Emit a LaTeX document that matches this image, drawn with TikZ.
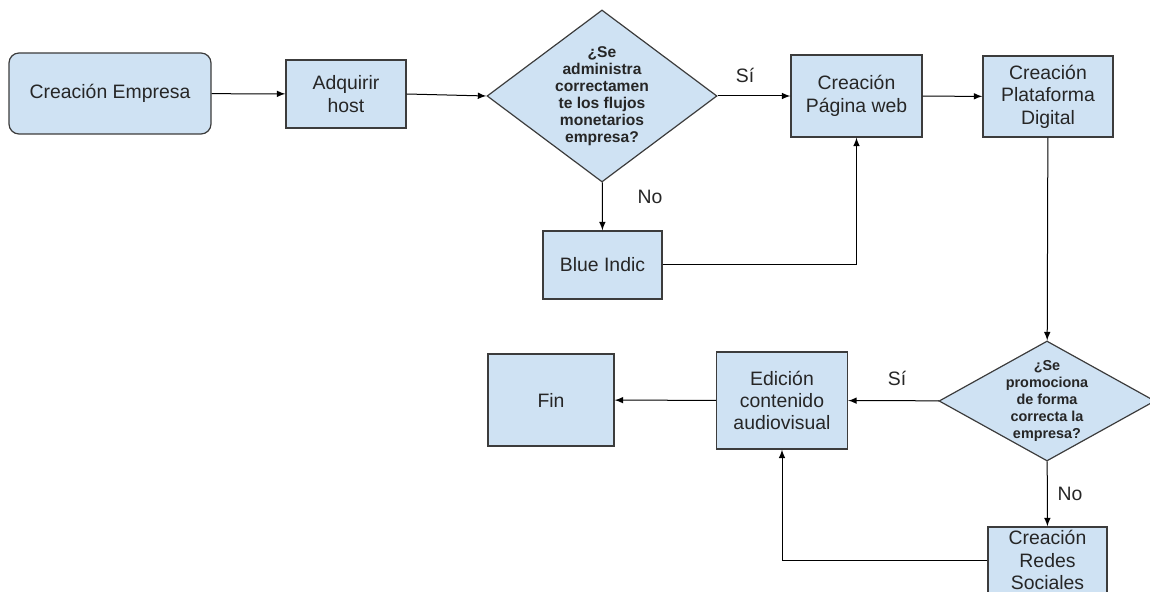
\documentclass[tikz,border=0pt]{standalone}
\usepackage{xcolor}
\usepackage{fontspec}
\setmainfont{Liberation Sans}
\usepackage{tikz}
\usetikzlibrary{shapes.geometric,arrows}

\definecolor{boxfill}{HTML}{CFE2F3}
\definecolor{boxline}{HTML}{3C3C3C}
\definecolor{inktext}{HTML}{262626}

\begin{document}
\begin{tikzpicture}[x=0.5pt, y=-0.5pt,
  every node/.style={text=inktext, font=\fontsize{9.7}{11.2}\selectfont},
  box/.style={draw=boxline, fill=boxfill, line width=0.6pt, align=center, inner sep=0pt},
  decision/.style={draw=boxline, fill=boxfill, line width=0.6pt, diamond, align=center, inner sep=-4pt,
    font=\fontsize{7.2}{8.5}\selectfont\bfseries},
  flow/.style={->, >=latex, line width=0.5pt, black}]
\useasboundingbox (0,0) rectangle (1150,592);

\node[box, rounded corners=5pt, minimum width=101pt, minimum height=40.5pt] at (110,93.5) (empresa) {Creación Empresa};
\node[box, minimum width=60pt, minimum height=34pt] at (346,94) (host) {Adquirir \\ host};
\node[decision, aspect=1.4, minimum width=115pt, minimum height=86pt, font=\fontsize{7.8}{8.5}\selectfont\bfseries] at (602,96) (q1) {¿Se \\ administra \\ correctamen \\ te los flujos \\ monetarios \\ empresa?};
\node[box, minimum width=65.5pt, minimum height=41pt] at (856.5,96) (pagina) {Creación \\ Página web};
\node[box, minimum width=65pt, minimum height=40.5pt] at (1048,96.5) (plataforma) {Creación \\ Plataforma \\ Digital};
\node[box, minimum width=59.5pt, minimum height=34pt] at (602.5,265) (blue) {Blue Indic};

\node[decision, aspect=1.8, minimum width=108pt, minimum height=60pt] at (1047,401) (q2) {¿Se \\ promociona \\ de forma \\ correcta la \\ empresa?};
\node[box, minimum width=65.5pt, minimum height=48.5pt] at (782,400.5) (edicion) {Edición \\ contenido \\ audiovisual};
\node[box, minimum width=63pt, minimum height=46pt] at (551,400) (fin) {Fin};
\node[box, minimum width=59.5pt, minimum height=33pt] at (1047.5,560) (redes) {Creación \\ Redes \\ Sociales};

\node[] at (745,75) (si1) {Sí};
\node[] at (650,197) (no1) {No};
\node[] at (897,378) (si2) {Sí};
\node[] at (1070,494) (no2) {No};

\draw[flow] (empresa) -- (host);
\draw[flow] (host.east) -- (q1.west);
\draw[flow] (q1) -- (pagina);
\draw[flow] (pagina) -- (plataforma);
\draw[flow] (q1) -- (blue);
\draw[flow] (blue) -| (pagina);
\draw[flow] (plataforma) -- (q2);
\draw[flow] (q2) -- (edicion);
\draw[flow] (edicion) -- (fin);
\draw[flow] (q2) -- (redes);
\draw[flow] (redes) -| (edicion);
\end{tikzpicture}
\end{document}
